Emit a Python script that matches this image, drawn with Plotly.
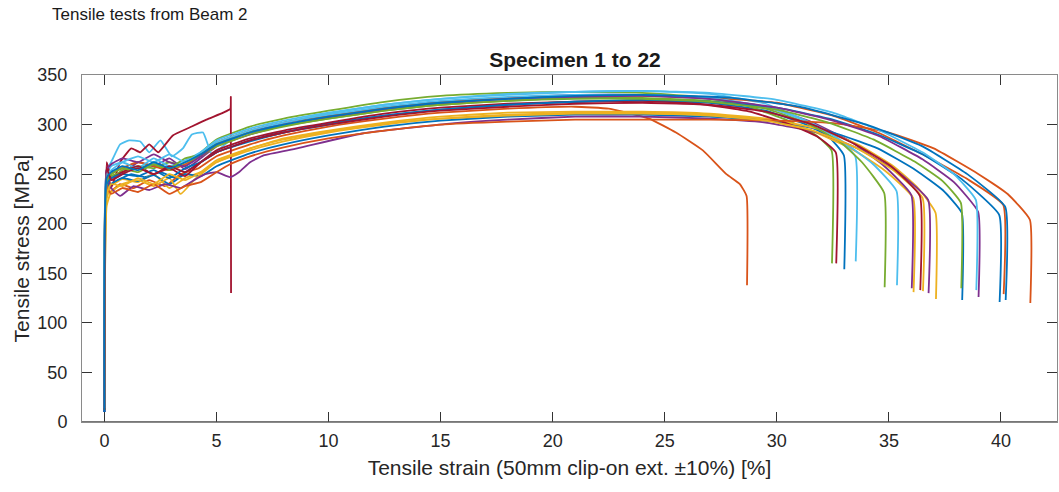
import plotly.graph_objects as go

# ---- data (strain in %, stress in MPa) ----
strain_01 = [0, 0.1, 0.2, 0.6, 1.2, 1.8, 2.5, 3.2, 4.0, 5.0, 6.5, 8, 10, 12.5, 15, 18, 21, 24, 27, 29.5, 31.3, 32.3, 32.99, 33.01]
stress_01 = [10, 248, 238, 244, 250, 247, 252, 246, 258, 272, 283, 292, 301, 309, 315, 320, 323, 324, 322, 314, 300, 288, 269, 154]

strain_02 = [0, 0.1, 0.25, 0.7, 1.3, 2.0, 2.7, 3.4, 4.2, 5.0, 6.5, 8, 10, 12.5, 15, 18, 21, 22.5, 24.3, 25.5, 26.7, 27.75, 28.35, 28.65, 28.67]
stress_02 = [12, 240, 232, 240, 236, 244, 238, 250, 256, 268, 280, 289, 298, 306, 312, 316, 318, 316, 306, 292, 274, 250, 240, 228, 138]

strain_03 = [0, 0.1, 0.3, 0.8, 1.5, 2.2, 2.9, 3.6, 4.3, 5.0, 6.5, 8, 10, 12.5, 15, 18, 21, 24, 27, 29.5, 31.5, 33.3, 34.8, 36.08, 36.10]
stress_03 = [15, 225, 238, 245, 242, 250, 236, 246, 252, 262, 274, 283, 292, 300, 306, 310, 312, 312, 310, 305, 294, 276, 254, 226, 131]

strain_04 = [0, 0.1, 0.3, 0.8, 1.5, 2.2, 2.9, 3.6, 4.3, 5.0, 6.5, 8, 10, 12.5, 15, 18, 21, 24, 27, 29.5, 31.5, 33.3, 34.8, 36.0, 36.02]
stress_04 = [14, 252, 244, 250, 262, 258, 266, 255, 266, 278, 290, 299, 308, 316, 322, 327, 330, 330, 326, 318, 303, 283, 258, 229, 135]

strain_05 = [0, 0.1, 0.3, 0.8, 1.5, 2.2, 2.9, 3.6, 4.3, 5.0, 6.5, 8, 10, 12.5, 15, 18, 21, 24, 26.5, 28.5, 30.5, 31.7, 32.44, 32.46]
stress_05 = [12, 250, 246, 254, 258, 256, 262, 258, 272, 285, 298, 306, 314, 323, 329, 332, 333, 332, 328, 320, 304, 290, 274, 160]

strain_06 = [0, 0.1, 0.3, 0.7, 1.1, 1.6, 2.0, 2.5, 3.0, 3.5, 3.9, 4.4, 4.8, 5.6, 6.5, 8, 10, 12.5, 15, 18, 21, 24, 27, 29.5, 31.3, 32.5, 33.5, 33.52]
stress_06 = [10, 255, 262, 280, 284, 283, 272, 284, 268, 276, 290, 292, 270, 284, 293, 302, 311, 320, 326, 330, 333, 334, 331, 321, 304, 290, 268, 162]

strain_07 = [0, 0.1, 0.3, 0.7, 1.2, 1.6, 2.0, 2.4, 3.05, 3.8, 4.55, 5.3, 5.62, 5.64, 5.65]
stress_07 = [12, 258, 236, 262, 276, 272, 280, 272, 289, 297, 305, 312, 316, 328, 130]

strain_08 = [0, 0.1, 0.3, 0.8, 1.5, 2.2, 2.9, 3.6, 4.3, 5.0, 6.5, 8, 10, 12.5, 15, 18, 21, 24, 27, 30, 32.5, 34.5, 36.2, 37.4, 38.25, 38.27]
stress_08 = [10, 232, 240, 246, 243, 249, 240, 250, 248, 258, 271, 280, 289, 298, 304, 308, 310, 310, 308, 303, 292, 276, 254, 234, 211, 123]

strain_09 = [0, 0.1, 0.3, 0.8, 1.5, 2.2, 2.9, 3.6, 4.3, 5.0, 6.5, 8, 10, 12.5, 15, 18, 21, 24, 27, 30, 32.5, 34.5, 36.5, 38.5, 40.1, 40.12]
stress_09 = [12, 245, 250, 256, 262, 258, 254, 260, 270, 282, 294, 302, 309, 317, 323, 327, 329, 329, 327, 322, 309, 292, 270, 245, 219, 129]

strain_10 = [0, 0.1, 0.3, 0.8, 1.5, 2.2, 2.9, 3.4, 4.0, 5.0, 6.5, 8, 10, 12.5, 15, 18, 21, 24, 27, 29.5, 31.8, 33.6, 35.2, 36.3, 37.08, 37.10]
stress_10 = [14, 218, 232, 240, 244, 238, 246, 230, 244, 262, 276, 286, 294, 302, 308, 312, 313, 313, 311, 306, 296, 280, 258, 236, 211, 124]

strain_11 = [0, 0.1, 0.3, 0.7, 1.3, 2.0, 2.7, 3.4, 4.0, 4.5, 5.0, 5.6, 6.0, 6.5, 7.1, 8.6, 11.5, 15.4, 18, 21, 24, 27, 29.5, 31.8, 33.6, 35.3, 36.75, 36.77]
stress_11 = [10, 248, 236, 228, 238, 234, 240, 236, 244, 250, 252, 247, 252, 262, 269, 276, 291, 301, 305, 308, 308, 306, 302, 292, 276, 254, 224, 130]

strain_12 = [0, 0.1, 0.3, 0.8, 1.5, 2.2, 2.9, 3.6, 4.3, 5.0, 6.5, 8, 10, 12.5, 15, 18, 21, 24, 27, 29.5, 31.3, 32.8, 33.8, 34.79, 34.81]
stress_12 = [12, 240, 248, 252, 256, 260, 254, 262, 268, 278, 290, 298, 306, 314, 320, 324, 327, 327, 324, 316, 302, 283, 262, 231, 136]

strain_13 = [0, 0.1, 0.3, 0.8, 1.5, 2.2, 2.9, 3.6, 4.3, 5.0, 6.5, 8, 10, 12.5, 15, 18, 21, 24, 27, 29.5, 31.5, 33.0, 34.3, 35.34, 35.36]
stress_13 = [15, 250, 258, 262, 256, 266, 258, 264, 272, 282, 294, 302, 310, 318, 324, 328, 330, 330, 327, 318, 302, 282, 260, 233, 138]

strain_14 = [0, 0.1, 0.3, 0.8, 1.5, 2.2, 2.9, 3.6, 4.3, 5.0, 6.5, 8, 10, 12.5, 15, 18, 21, 24, 26.5, 28.8, 30.6, 31.8, 32.63, 32.65]
stress_14 = [12, 262, 246, 252, 258, 250, 256, 248, 262, 274, 286, 294, 302, 311, 317, 321, 323, 324, 321, 313, 300, 288, 272, 160]

strain_15 = [0, 0.1, 0.3, 0.8, 1.5, 2.2, 2.9, 3.6, 4.3, 5.0, 6.5, 8, 10, 12.5, 15, 18, 21, 24, 27, 30, 32.5, 34.5, 36.5, 38.3, 39.92, 39.94]
stress_15 = [10, 240, 246, 250, 248, 254, 246, 256, 262, 272, 284, 292, 300, 309, 315, 320, 323, 325, 323, 317, 305, 290, 270, 244, 209, 121]

strain_16 = [0, 0.1, 0.3, 0.8, 1.5, 2.2, 2.9, 3.6, 4.3, 5.0, 5.6, 6.5, 8, 10, 12.5, 15, 18, 21, 24, 27, 30, 32.7, 35, 37, 39, 40.3, 41.29, 41.31]
stress_16 = [12, 236, 230, 236, 232, 240, 230, 238, 242, 252, 260, 268, 277, 286, 294, 300, 303, 305, 305, 305, 304, 301, 292, 276, 250, 230, 204, 120]

strain_17 = [0, 0.1, 0.3, 0.8, 1.5, 2.2, 2.9, 3.6, 4.3, 5.0, 6.5, 8, 10, 12.5, 15, 18, 21, 24, 27, 29.5, 31.6, 33.5, 35.2, 36.5, 36.52]
stress_17 = [12, 230, 240, 238, 246, 240, 250, 244, 252, 264, 276, 285, 293, 301, 306, 309, 311, 311, 309, 304, 294, 277, 254, 226, 132]

strain_18 = [0, 0.1, 0.3, 0.8, 1.5, 2.2, 2.9, 3.6, 4.3, 5.0, 6.5, 8, 10, 12.5, 15, 18, 21, 24, 27, 30, 32.5, 34.6, 36.5, 37.9, 38.98, 39.0]
stress_18 = [10, 254, 260, 266, 262, 270, 262, 258, 268, 280, 292, 300, 307, 315, 321, 326, 328, 329, 326, 317, 304, 288, 265, 242, 212, 126]

strain_19 = [0, 0.1, 0.3, 0.8, 1.5, 2.2, 2.9, 3.6, 4.3, 5.0, 6.5, 8, 10, 12.5, 15, 18, 21, 24, 27, 30, 32.3, 34.3, 36.2, 37.4, 38.21, 38.23]
stress_19 = [12, 244, 250, 256, 252, 260, 256, 266, 270, 280, 292, 299, 306, 314, 320, 324, 326, 326, 323, 315, 302, 285, 262, 243, 221, 135]

strain_20 = [0, 0.1, 0.3, 0.8, 1.5, 2.2, 2.9, 3.6, 4.3, 5.0, 6.5, 8, 10, 12.5, 15, 18, 21, 24, 27, 30, 32.5, 34.5, 36.5, 37.9, 38.88, 38.9]
stress_20 = [14, 250, 254, 262, 268, 262, 270, 262, 272, 284, 296, 304, 312, 320, 326, 331, 333, 334, 332, 325, 312, 295, 272, 250, 224, 133]

strain_21 = [0, 0.1, 0.3, 0.8, 1.5, 2.2, 2.9, 3.6, 4.3, 5.0, 6.5, 8, 10, 12.5, 15, 18, 21, 24, 27, 29.5, 31.6, 33.5, 35.1, 36.38, 36.4]
stress_21 = [12, 256, 244, 250, 256, 250, 258, 252, 262, 272, 284, 292, 300, 308, 314, 318, 321, 322, 320, 313, 300, 280, 258, 228, 133]

strain_22 = [0, 0.1, 0.3, 0.8, 1.5, 2.2, 2.9, 3.6, 4.3, 5.0, 6.5, 8, 10, 12.5, 15, 18, 21, 24, 28, 31, 34, 36.5, 38.5, 40.19, 40.21]
stress_22 = [10, 246, 252, 258, 254, 262, 256, 262, 270, 280, 292, 300, 308, 316, 322, 326, 329, 330, 327, 318, 300, 278, 250, 217, 123]

x_ticks = [0, 5, 10, 15, 20, 25, 30, 35, 40]
y_ticks = [0, 50, 100, 150, 200, 250, 300, 350]

color_order = ["#0072BD", "#D95319", "#EDB120", "#7E2F8E", "#77AC30", "#4DBEEE", "#A2142F"]

specimens = [
    (strain_01, stress_01), (strain_02, stress_02), (strain_03, stress_03), (strain_04, stress_04),
    (strain_05, stress_05), (strain_06, stress_06), (strain_07, stress_07), (strain_08, stress_08),
    (strain_09, stress_09), (strain_10, stress_10), (strain_11, stress_11), (strain_12, stress_12),
    (strain_13, stress_13), (strain_14, stress_14), (strain_15, stress_15), (strain_16, stress_16),
    (strain_17, stress_17), (strain_18, stress_18), (strain_19, stress_19), (strain_20, stress_20),
    (strain_21, stress_21), (strain_22, stress_22),
]

fig = go.Figure()
for i, (sx, sy) in enumerate(specimens):
    fig.add_trace(go.Scatter(
        x=sx, y=sy, mode="lines",
        name=f"Specimen {i + 1}",
        line=dict(color=color_order[i % 7], width=1.8, shape="spline", smoothing=0.4),
        showlegend=False,
    ))

FONT = "Liberation Sans, Arial, sans-serif"
axis_font = dict(family=FONT, size=18, color="#262626")

fig.update_layout(
    width=1059, height=492,
    margin=dict(l=82, r=2, t=75, b=70),
    paper_bgcolor="white", plot_bgcolor="white",
    font=dict(family=FONT, color="#262626"),
    title=dict(text="<b>Specimen 1 to 22</b>", x=0.543, xanchor="center", y=0.878, yanchor="middle",
               font=dict(size=21, color="#1a1a1a")),
    xaxis=dict(
        range=[-1, 42.5], tickvals=x_ticks, ticks="inside", ticklen=10, tickcolor="#333333",
        showline=True, linecolor="#8a8a8a", linewidth=1, mirror="allticks",
        showgrid=False, zeroline=False, tickfont=axis_font, ticklabelstandoff=2,
        title=dict(text="Tensile strain (50mm clip-on ext. ±10%) [%]", font=dict(size=21, color="#262626"), standoff=10),
    ),
    yaxis=dict(
        range=[0, 350], tickvals=y_ticks, ticks="inside", ticklen=10, tickcolor="#333333",
        showline=True, linecolor="#8a8a8a", linewidth=1, mirror="allticks",
        showgrid=False, zeroline=False, tickfont=axis_font, ticklabelstandoff=10,
        title=dict(text="Tensile stress [MPa]", font=dict(size=21, color="#262626"), standoff=2),
    ),
    shapes=[dict(type="line", xref="paper", yref="y", x0=0, x1=1, y0=0, y1=0,
                 line=dict(color="#4a4a4a", width=1.5))],
    annotations=[dict(
        text="Tensile tests from Beam 2", xref="paper", yref="paper", x=-0.033, y=1.173,
        xanchor="left", yanchor="middle", showarrow=False,
        font=dict(size=17, color="#1a1a1a", family=FONT),
    )],
)

fig.write_html("out.html")
